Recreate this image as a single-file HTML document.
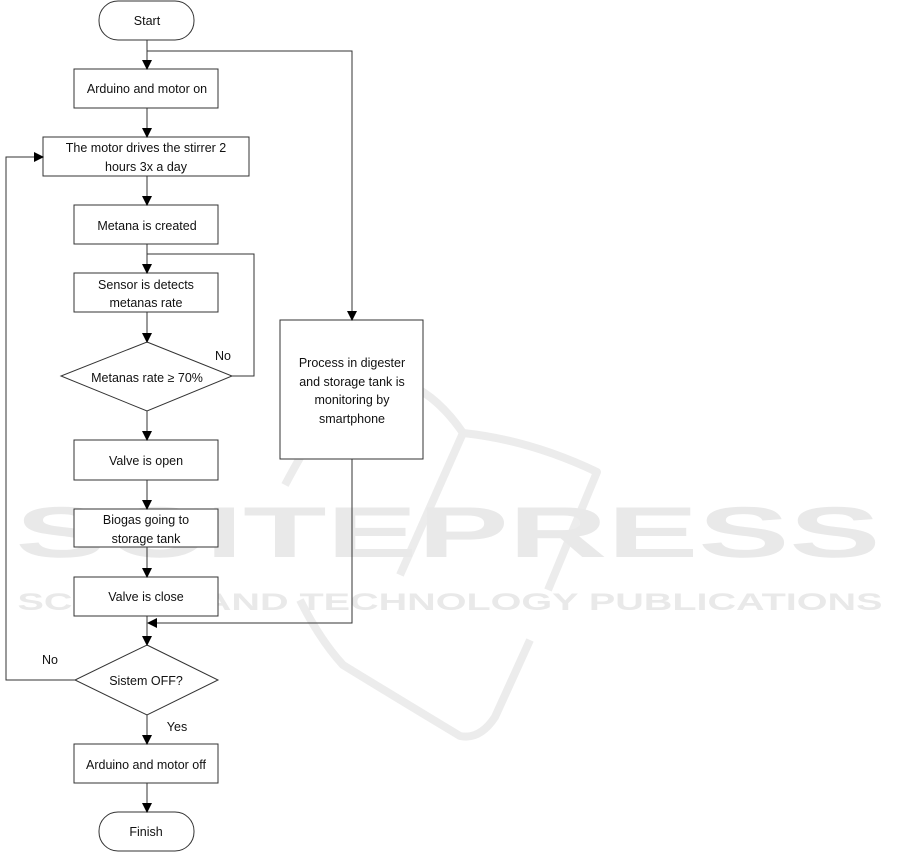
<!DOCTYPE html>
<html><head><meta charset="utf-8"><style>
html,body{margin:0;padding:0;background:#fff;}
svg{display:block;}
text{font-family:"Liberation Sans",sans-serif;font-size:12.5px;fill:#111;}
.wm{font-family:"Liberation Sans",sans-serif;font-weight:bold;fill:#e9e9e9;}
</style></head><body>
<svg width="901" height="852" viewBox="0 0 901 852" xmlns="http://www.w3.org/2000/svg">
<defs><marker id="a" markerWidth="10" markerHeight="10" refX="9" refY="5" orient="auto" markerUnits="userSpaceOnUse"><path d="M0,0 L10,5 L0,10 z" fill="#000"/></marker></defs>
<!-- watermark -->
<g fill="none" stroke="#ececec" stroke-width="8" stroke-linejoin="round">
<path d="M285,485 Q330,400 360,378 Q420,370 463,433 Q530,440 597,472 L548,590 M530,640 L495,717 Q480,740 460,736 Q400,700 343,665 Q320,640 300,600"/>
<path d="M463,433 L400,575"/>
</g>
<text class="wm" x="448" y="557" text-anchor="middle" style="font-size:72px" textLength="865" lengthAdjust="spacingAndGlyphs">SCITEPRESS</text>
<text class="wm" x="450" y="610" text-anchor="middle" style="font-size:24px" textLength="865" lengthAdjust="spacingAndGlyphs">SCIENCE AND TECHNOLOGY PUBLICATIONS</text>
<g fill="#fff" stroke="#333" stroke-width="1">
<rect x="99" y="1" width="95" height="39" rx="19"/>
<rect x="74" y="69" width="144" height="39"/>
<rect x="43" y="137" width="206" height="39"/>
<rect x="74" y="205" width="144" height="39"/>
<rect x="74" y="273" width="144" height="39"/>
<polygon points="147,342 232,376 147,411 61,376"/>
<rect x="280" y="320" width="143" height="139"/>
<rect x="74" y="440" width="144" height="40"/>
<rect x="74" y="509" width="144" height="38"/>
<rect x="74" y="577" width="144" height="39"/>
<polygon points="147,645 218,680 147,715 75,680"/>
<rect x="74" y="744" width="144" height="39"/>
<rect x="99" y="812" width="95" height="39" rx="19"/>
</g>
<g fill="none" stroke="#333" stroke-width="1" marker-end="url(#a)">
<line x1="147" y1="40" x2="147" y2="69"/>
<polyline points="147,51 352,51 352,320"/>
<line x1="147" y1="108" x2="147" y2="137"/>
<line x1="147" y1="176" x2="147" y2="205"/>
<line x1="147" y1="244" x2="147" y2="273"/>
<polyline points="232,376 254,376 254,254 147,254" marker-end="none"/>
<line x1="147" y1="312" x2="147" y2="342"/>
<line x1="147" y1="411" x2="147" y2="440"/>
<line x1="147" y1="480" x2="147" y2="509"/>
<line x1="147" y1="547" x2="147" y2="577"/>
<polyline points="352,459 352,623 148,623"/>
<line x1="147" y1="616" x2="147" y2="645"/>
<polyline points="75,680 6,680 6,157 43,157"/>
<line x1="147" y1="715" x2="147" y2="744"/>
<line x1="147" y1="783" x2="147" y2="812"/>
</g>
<g text-anchor="middle">
<text x="147" y="25">Start</text>
<text x="147" y="93">Arduino and motor on</text>
<text x="146" y="152">The motor drives the stirrer 2</text>
<text x="146" y="171">hours 3x a day</text>
<text x="147" y="230">Metana is created</text>
<text x="146" y="289">Sensor is detects</text>
<text x="146" y="307">metanas rate</text>
<text x="147" y="382">Metanas rate ≥ 70%</text>
<text x="352" y="367">Process in digester</text>
<text x="352" y="386">and storage tank is</text>
<text x="352" y="404">monitoring by</text>
<text x="352" y="423">smartphone</text>
<text x="146" y="465">Valve is open</text>
<text x="146" y="524">Biogas going to</text>
<text x="146" y="543">storage tank</text>
<text x="146" y="601">Valve is close</text>
<text x="146" y="685">Sistem OFF?</text>
<text x="146" y="769">Arduino and motor off</text>
<text x="146" y="836">Finish</text>
<text x="223" y="360">No</text>
<text x="50" y="664">No</text>
<text x="177" y="731">Yes</text>
</g>
</svg>
</body></html>
